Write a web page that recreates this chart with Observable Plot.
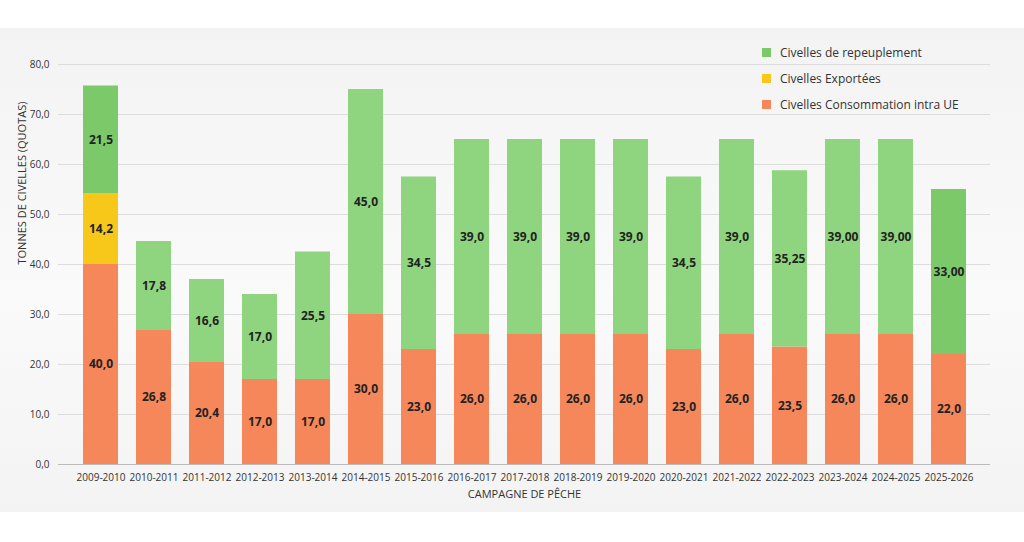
<!DOCTYPE html><html><head><meta charset="utf-8">
<script src="https://cdn.jsdelivr.net/npm/d3@7"></script>
<script src="https://cdn.jsdelivr.net/npm/@observablehq/plot@0.6"></script>
<style>body{margin:0;background:#fff;font-family:"Open Sans",sans-serif}
#wrap{position:relative;width:1024px;height:542px;background:linear-gradient(#fff 0,#fff 28px,#f3f3f3 28px,#fafafa 300px,#f3f3f3 512px,#fff 512px)}
.leg{position:absolute;left:762px;font-size:12px;color:#333;display:flex;align-items:center}
.leg i{display:inline-block;width:9px;height:9px;margin-right:9px}</style></head><body>
<div id="wrap"></div>
<script>
const seasons=["2009-2010","2010-2011","2011-2012","2012-2013","2013-2014","2014-2015","2015-2016","2016-2017","2017-2018","2018-2019","2019-2020","2020-2021","2021-2022","2022-2023","2023-2024","2024-2025","2025-2026"];
const conso=[40,26.8,20.4,17,17,30,23,26,26,26,26,23,26,23.5,26,26,22];
const export_=[14.2,0,0,0,0,0,0,0,0,0,0,0,0,0,0,0,0];
const repeup=[21.5,17.8,16.6,17,25.5,45,34.5,39,39,39,39,34.5,39,35.25,39,39,33];
const consoLbl=["40,0","26,8","20,4","17,0","17,0","30,0","23,0","26,0","26,0","26,0","26,0","23,0","26,0","23,5","26,0","26,0","22,0"];
const exportLbl=["14,2","","","","","","","","","","","","","","","",""];
const repeupLbl=["21,5","17,8","16,6","17,0","25,5","45,0","34,5","39,0","39,0","39,0","39,0","34,5","39,0","35,25","39,00","39,00","33,00"];
const series=["Civelles Consommation intra UE","Civelles Exportées","Civelles de repeuplement"];
const colors=["#f5875a","#f7c81a","#8fd47e"];
const rows=[];
seasons.forEach((s,i)=>{
  rows.push({s,k:series[0],v:conso[i],l:consoLbl[i],i});
  rows.push({s,k:series[1],v:export_[i],l:exportLbl[i],i});
  rows.push({s,k:series[2],v:repeup[i],l:repeupLbl[i],i});
});
const darkGreen=new Set([0,16]);
const fillOf=d=>d.k===series[2]&&darkGreen.has(d.i)?"#7cc96a":colors[series.indexOf(d.k)];
const chart=Plot.plot({width:1024,height:542,marginTop:64,marginBottom:78,marginLeft:58,marginRight:34,
  style:{background:"transparent",fontFamily:"Open Sans",fontSize:"10px",color:"#333"},
  x:{domain:seasons,padding:0.34,label:null,tickSize:0},
  y:{domain:[0,80],ticks:d3.range(0,81,10),tickFormat:d=>d.toFixed(1).replace(".",","),label:null,tickSize:0},
  marks:[
    Plot.gridY(d3.range(10,81,10),{stroke:"#ddd",strokeOpacity:1}),
    Plot.ruleY([0],{stroke:"#bbb"}),
    Plot.barY(rows,Plot.stackY({x:"s",y:"v",z:"k",fill:fillOf,order:series})),
    Plot.text(rows,Plot.stackY({x:"s",y:"v",z:"k",order:series,text:"l",fill:"#222",fontWeight:"bold",fontSize:12})),
    Plot.text(["TONNES DE CIVELLES (QUOTAS)"],{frameAnchor:"left",dx:-36,rotate:-90,fontSize:11,fill:"#333"}),
    Plot.text(["CAMPAGNE DE PÊCHE"],{frameAnchor:"bottom",dy:33,fontSize:11,fill:"#333"})
  ]});
const w=document.getElementById("wrap");
w.appendChild(chart);
chart.style.position="absolute";chart.style.left="0";chart.style.top="0";
const legs=[[series[2],"#7cc96a",44],[series[1],colors[1],70],[series[0],colors[0],96]];
for(const [t,c,y] of legs){const d=document.createElement("div");d.className="leg";d.style.top=y+"px";d.innerHTML=`<i style="background:${c}"></i>${t}`;w.appendChild(d);}
</script></body></html>
